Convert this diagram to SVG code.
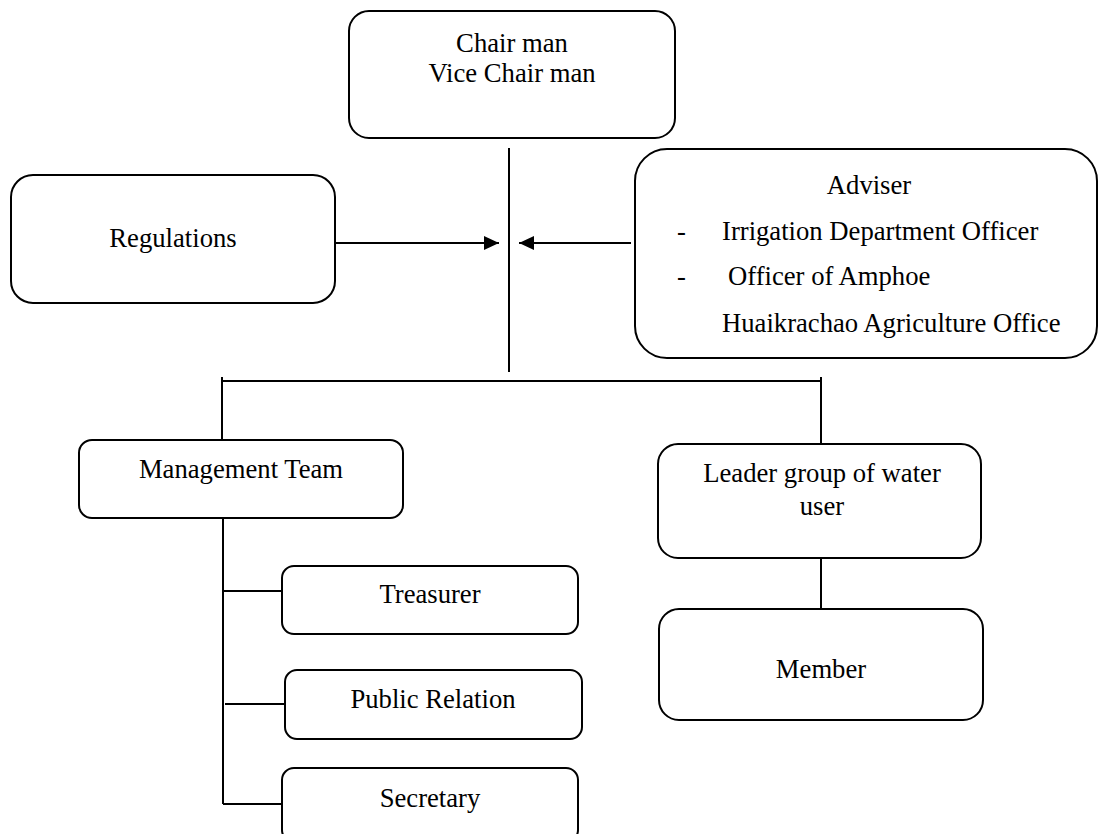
<svg xmlns="http://www.w3.org/2000/svg" width="1098" height="834" viewBox="0 0 1098 834">
<style>
  .box { fill: #ffffff; stroke: #000000; stroke-width: 2; }
  .ln { fill: none; stroke: #000000; stroke-width: 2; }
  .t { font-family: "Liberation Serif", "Times New Roman", serif; font-size: 26.67px; fill: #000000; }
  .c { text-anchor: middle; }
</style>
<defs>
  <marker id="arrow" viewBox="0 0 15 14" refX="15" refY="7" markerWidth="15" markerHeight="14" markerUnits="userSpaceOnUse" orient="auto">
    <path d="M0,0 L15,7 L0,14 Z" fill="#000000"/>
  </marker>
</defs>
<rect width="1098" height="834" fill="#ffffff"/>
<g id="connectors">
  <line class="ln" x1="509" y1="148" x2="509" y2="372"/>
  <line class="ln" x1="336" y1="243" x2="499" y2="243" marker-end="url(#arrow)"/>
  <line class="ln" x1="631" y1="243" x2="519" y2="243" marker-end="url(#arrow)"/>
  <line class="ln" x1="222" y1="381" x2="821" y2="381"/>
  <line class="ln" x1="222" y1="377" x2="222" y2="440"/>
  <line class="ln" x1="821" y1="377" x2="821" y2="444"/>
  <line class="ln" x1="223" y1="518" x2="223" y2="804"/>
  <line class="ln" x1="223" y1="591" x2="282" y2="591"/>
  <line class="ln" x1="225" y1="704" x2="285" y2="704"/>
  <line class="ln" x1="223" y1="804" x2="282" y2="804"/>
  <line class="ln" x1="821" y1="558" x2="821" y2="609"/>
</g>
<g id="chair">
  <rect class="box" x="349" y="11" width="326" height="127" rx="20"/>
  <text class="t c" x="512" y="52">Chair man</text>
  <text class="t c" x="512" y="82">Vice Chair man</text>
</g>
<g id="regulations">
  <rect class="box" x="11" y="175" width="324" height="128" rx="22"/>
  <text class="t c" x="173" y="247">Regulations</text>
</g>
<g id="adviser">
  <rect class="box" x="635" y="149" width="462" height="209" rx="32"/>
  <text class="t c" x="869" y="194">Adviser</text>
  <text class="t" x="677" y="240">-</text>
  <text class="t" x="722" y="240">Irrigation Department Officer</text>
  <text class="t" x="677" y="285">-</text>
  <text class="t" x="728" y="285">Officer of Amphoe</text>
  <text class="t" x="722" y="332">Huaikrachao Agriculture Office</text>
</g>
<g id="management">
  <rect class="box" x="79" y="440" width="324" height="78" rx="13"/>
  <text class="t c" x="241" y="478">Management Team</text>
</g>
<g id="leader">
  <rect class="box" x="658" y="444" width="323" height="114" rx="20"/>
  <text class="t c" x="822" y="482">Leader group of water</text>
  <text class="t c" x="822" y="515">user</text>
</g>
<g id="member">
  <rect class="box" x="659" y="609" width="324" height="111" rx="20"/>
  <text class="t c" x="821" y="678">Member</text>
</g>
<g id="treasurer">
  <rect class="box" x="282" y="566" width="296" height="68" rx="12"/>
  <text class="t c" x="430" y="603">Treasurer</text>
</g>
<g id="public-relation">
  <rect class="box" x="285" y="670" width="297" height="69" rx="12"/>
  <text class="t c" x="433" y="708">Public Relation</text>
</g>
<g id="secretary">
  <rect class="box" x="282" y="768" width="296" height="74" rx="12"/>
  <text class="t c" x="430" y="807">Secretary</text>
</g>
</svg>
